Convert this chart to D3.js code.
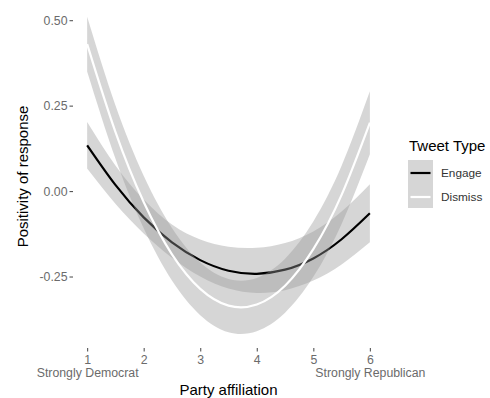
<!DOCTYPE html>
<html>
<head>
<meta charset="utf-8">
<script src="https://cdn.jsdelivr.net/npm/d3@7"></script>
<style>
  html, body { margin: 0; padding: 0; background: #fff; }
</style>
</head>
<body>
<div id="chart"></div>
<script>

// Data (fitted curves + confidence bands)
var partyValues = [1, 1.5, 2, 2.5, 3, 3.5, 4, 4.5, 5, 5.5, 6];
var xTicks = [1, 2, 3, 4, 5, 6];
var xTickNotes = { 1: 'Strongly Democrat', 6: 'Strongly Republican' };
var yTicks = [-0.25, 0, 0.25, 0.5];
var tweetTypes = ['Engage', 'Dismiss'];

var engageFit   = [0.134, 0.018, -0.077, -0.150, -0.202, -0.233, -0.242, -0.230, -0.197, -0.141, -0.065];
var engageUpper = [0.202, 0.075, -0.025, -0.098, -0.142, -0.163, -0.166, -0.152, -0.118, -0.060, 0.020];
var engageLower = [0.066, -0.037, -0.124, -0.195, -0.250, -0.285, -0.298, -0.290, -0.262, -0.215, -0.150];

var dismissFit   = [0.430, 0.173, -0.032, -0.185, -0.286, -0.335, -0.332, -0.277, -0.170, -0.011, 0.200];
var dismissUpper = [0.510, 0.251, 0.045, -0.108, -0.209, -0.257, -0.254, -0.198, -0.089, 0.074, 0.292];
var dismissLower = [0.350, 0.095, -0.109, -0.262, -0.363, -0.413, -0.410, -0.356, -0.251, -0.096, 0.108];

function renderSmoothChart() {

  // Exposed variables
  var attrs = {
    svgWidth: 490,
    svgHeight: 398,
    panelLeft: 73,
    panelRight: 384,
    panelTop: 1,
    panelBottom: 348,
    defaultFont: '"Liberation Sans", Arial, Helvetica, sans-serif',
    tickColor: '#555',
    tickTextFill: '#6b6b6b',
    tickFontSize: 12.3,
    titleFontSize: 15,
    bandFill: '#999999',
    bandOpacity: 0.4,
    lineColors: { Engage: '#000000', Dismiss: '#ffffff' }
  };

  var series = [
    { name: 'Engage', fit: engageFit, upper: engageUpper, lower: engageLower },
    { name: 'Dismiss', fit: dismissFit, upper: dismissUpper, lower: dismissLower }
  ];

  var svg = d3.select('#chart').append('svg')
    .attr('width', attrs.svgWidth)
    .attr('height', attrs.svgHeight)
    .attr('font-family', attrs.defaultFont);

  // ggplot style 5% expansion of the data range
  var allY = d3.merge(series.map(function (s) { return s.upper.concat(s.lower); }));
  var yMin = d3.min(allY), yMax = d3.max(allY);
  var yPad = (yMax - yMin) * 0.05;
  var xPad = (d3.max(partyValues) - d3.min(partyValues)) * 0.05;

  var scales = {
    x: d3.scaleLinear()
      .domain([d3.min(partyValues) - xPad, d3.max(partyValues) + xPad])
      .range([attrs.panelLeft, attrs.panelRight]),
    y: d3.scaleLinear()
      .domain([yMin - yPad, yMax + yPad])
      .range([attrs.panelBottom, attrs.panelTop])
  };

  var area = d3.area()
    .curve(d3.curveNatural)
    .x(function (d) { return scales.x(d.x); })
    .y0(function (d) { return scales.y(d.lo); })
    .y1(function (d) { return scales.y(d.hi); });

  var line = d3.line()
    .curve(d3.curveNatural)
    .x(function (d) { return scales.x(d.x); })
    .y(function (d) { return scales.y(d.y); });

  // ribbons + lines, drawn per group like geom_smooth
  var chart = svg.append('g').attr('class', 'chart');
  series.forEach(function (s) {
    var pts = partyValues.map(function (x, i) {
      return { x: x, y: s.fit[i], lo: s.lower[i], hi: s.upper[i] };
    });
    chart.append('path')
      .attr('d', area(pts))
      .attr('fill', attrs.bandFill)
      .attr('fill-opacity', attrs.bandOpacity);
    chart.append('path')
      .attr('d', line(pts))
      .attr('fill', 'none')
      .attr('stroke', attrs.lineColors[s.name])
      .attr('stroke-width', 2.2);
  });

  // Y axis (plain hyphen for negatives, like the original)
  var yAxis = svg.append('g')
    .attr('transform', 'translate(' + attrs.panelLeft + ',0)')
    .call(d3.axisLeft(scales.y).tickValues(yTicks).tickSize(3.5).tickPadding(2)
      .tickFormat(function (d) { return d3.format('.2f')(d).replace('\u2212', '-'); }));
  yAxis.select('.domain').remove();
  yAxis.selectAll('line').attr('stroke', attrs.tickColor).attr('stroke-width', 1.1);
  yAxis.selectAll('text')
    .attr('fill', attrs.tickTextFill)
    .attr('font-size', attrs.tickFontSize)
    .attr('font-family', attrs.defaultFont);

  // X axis
  var xAxis = svg.append('g')
    .attr('transform', 'translate(0,' + attrs.panelBottom + ')')
    .call(d3.axisBottom(scales.x).tickValues(xTicks).tickSize(3.5).tickPadding(4)
      .tickFormat(d3.format('d')));
  xAxis.select('.domain').remove();
  xAxis.selectAll('line').attr('stroke', attrs.tickColor).attr('stroke-width', 1.1);
  xAxis.selectAll('text')
    .attr('fill', attrs.tickTextFill)
    .attr('font-size', attrs.tickFontSize)
    .attr('font-family', attrs.defaultFont);

  // second line under the end ticks
  xAxis.selectAll('.tick').each(function (d) {
    if (!xTickNotes[d]) return;
    d3.select(this).append('text')
      .attr('y', 29)
      .attr('text-anchor', 'middle')
      .attr('fill', attrs.tickTextFill)
      .attr('font-size', attrs.tickFontSize)
      .attr('font-family', attrs.defaultFont)
      .text(xTickNotes[d]);
  });

  // Axis titles
  svg.append('text')
    .attr('x', (attrs.panelLeft + attrs.panelRight) / 2)
    .attr('y', 395)
    .attr('text-anchor', 'middle')
    .attr('font-size', attrs.titleFontSize)
    .attr('fill', '#000')
    .text('Party affiliation');

  svg.append('text')
    .attr('transform', 'translate(28,' + ((attrs.panelTop + attrs.panelBottom) / 2 + 2) + ') rotate(-90)')
    .attr('text-anchor', 'middle')
    .attr('font-size', attrs.titleFontSize)
    .attr('fill', '#000')
    .text('Positivity of response');

  // Legend
  var legend = svg.append('g').attr('transform', 'translate(408,0)');
  legend.append('text')
    .attr('x', 1)
    .attr('y', 151)
    .attr('font-size', attrs.titleFontSize)
    .attr('fill', '#000')
    .text('Tweet Type');

  var keys = legend.selectAll('.key')
    .data(tweetTypes)
    .enter().append('g')
    .attr('class', 'key')
    .attr('transform', function (d, i) { return 'translate(0,' + (160 + i * 24) + ')'; });

  keys.append('rect')
    .attr('width', 25)
    .attr('height', 24)
    .attr('fill', attrs.bandFill)
    .attr('fill-opacity', attrs.bandOpacity);

  keys.append('line')
    .attr('x1', 2.5).attr('x2', 22.5)
    .attr('y1', 13).attr('y2', 13)
    .attr('stroke', function (d) { return attrs.lineColors[d]; })
    .attr('stroke-width', 2.2);

  keys.append('text')
    .attr('x', 33)
    .attr('y', 17)
    .attr('font-size', 11.8)
    .attr('fill', '#333')
    .text(function (d) { return d; });
}

renderSmoothChart();
</script>
</body>
</html>
